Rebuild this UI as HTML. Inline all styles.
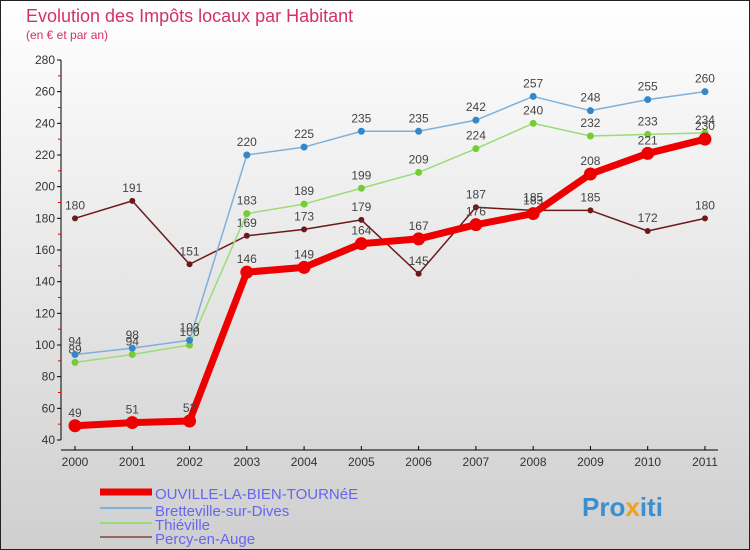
<!DOCTYPE html>
<html><head><meta charset="utf-8"><style>
body{margin:0}
svg{display:block;font-family:"Liberation Sans",sans-serif}
</style></head><body>
<svg width="750" height="550" id="c">
<defs><linearGradient id="bg" x1="0" y1="0" x2="0" y2="1"><stop offset="0" stop-color="#ffffff"/><stop offset="1" stop-color="#cfcfcf"/></linearGradient></defs>
<rect x="0.5" y="0.5" width="749" height="549" fill="url(#bg)" stroke="#222"/>
<text x="26" y="22" font-size="18" fill="#d4306a">Evolution des Impôts locaux par Habitant</text>
<text x="26" y="39" font-size="12" fill="#d4306a">(en € et par an)</text>
<g id="axes"></g><g id="series"></g>
<g>
<line x1="100" y1="492" x2="152" y2="492" stroke="#ee0000" stroke-width="7"/>
<text x="155" y="499" font-size="15" fill="#6666ee">OUVILLE-LA-BIEN-TOURNéE</text>
<line x1="100" y1="508" x2="152" y2="508" stroke="#7fb0d8" stroke-width="2"/>
<text x="155" y="516" font-size="15" fill="#6666ee">Bretteville-sur-Dives</text>
<line x1="100" y1="523" x2="152" y2="523" stroke="#99dd77" stroke-width="2"/>
<text x="155" y="530" font-size="15" fill="#6666ee">Thiéville</text>
<line x1="100" y1="537" x2="152" y2="537" stroke="#996666" stroke-width="2"/>
<text x="155" y="544" font-size="15" fill="#6666ee">Percy-en-Auge</text>
</g>
<text x="582" y="516" font-size="26" font-weight="bold" fill="#3a8fd0">Pro<tspan fill="#f0a020">x</tspan>iti</text>
</svg>
<script>
const years=["2000","2001","2002","2003","2004","2005","2006","2007","2008","2009","2010","2011"];
const ouville=[49,51,52,146,149,164,167,176,183,208,221,230];
const bretteville=[94,98,103,220,225,235,235,242,257,248,255,260];
const thieville=[89,94,100,183,189,199,209,224,240,232,233,234];
const percy=[180,191,151,169,173,179,145,187,185,185,172,180];
const yTicks=[40,60,80,100,120,140,160,180,200,220,240,260,280];
const NS="http://www.w3.org/2000/svg";
const X=i=>75+i*57.27, Y=v=>440-(v-40)*380/240;
function mk(t,a,p){const e=document.createElementNS(NS,t);for(const k in a)e.setAttribute(k,a[k]);p.appendChild(e);return e;}
const ax=document.getElementById('axes');
let l=mk('line',{x1:61,y1:60,x2:61,y2:440,stroke:'#000'},ax);


l=mk('line',{x1:61,y1:450,x2:718,y2:450,stroke:'#000'},ax);


yTicks.forEach((v,i)=>{
 mk('line',{x1:57,y1:Y(v),x2:61,y2:Y(v),stroke:'#000'},ax);
 if(i<yTicks.length-1)mk('line',{x1:58,y1:Y(v+10),x2:61,y2:Y(v+10),stroke:'#e00'},ax);
 const t=mk('text',{x:55,y:Y(v)+4,'font-size':12,fill:'#333','text-anchor':'end'},ax);t.textContent=v;
 
 
});
years.forEach((y,i)=>{
 mk('line',{x1:X(i),y1:446,x2:X(i),y2:450,stroke:'#000'},ax);
 const t=mk('text',{x:X(i),y:466,'font-size':12,fill:'#333','text-anchor':'middle'},ax);t.textContent=y;
 
 
});
const sg=document.getElementById('series');
function draw(vals,name,col,dot,w,r){
 const g=mk('g',{},sg);
 
 
 mk('polyline',{points:vals.map((v,i)=>X(i)+','+Y(v)).join(' '),fill:'none',stroke:col,'stroke-width':w,'stroke-linejoin':'round'},g);
 vals.forEach((v,i)=>{
  const c=mk('circle',{cx:X(i),cy:Y(v),r:r,fill:dot},g);
  
  
  const t=mk('text',{x:X(i),y:Y(v)-9,'font-size':12,fill:'#444','text-anchor':'middle'},g);t.textContent=v;
 });
}
draw(percy,'series-percy','#6b1a1a','#6b1a1a',1.5,3);
draw(thieville,'series-thieville','#99dd77','#77cc33',1.5,3.5);
draw(bretteville,'series-bretteville','#7fb0d8','#3388cc',1.5,3.5);
draw(ouville,'series-ouville','#ee0000','#ee0000',7,6.5);
</script>
</body></html>
